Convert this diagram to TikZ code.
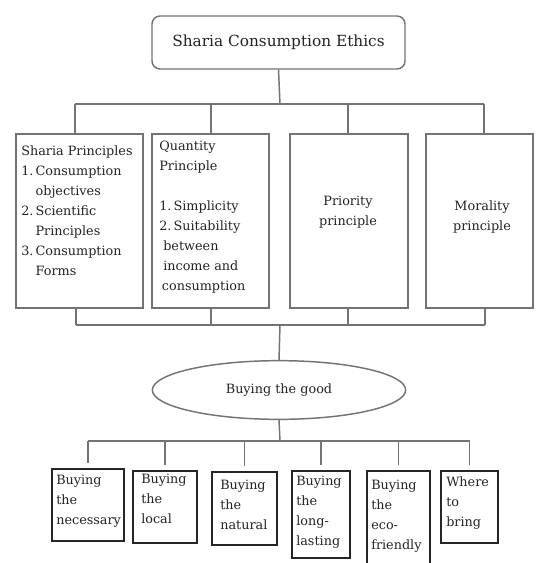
\documentclass[tikz,border=0pt]{standalone}
\usepackage{fontspec}
\setmainfont{DejaVu Serif}
\usetikzlibrary{shapes.geometric,fit}
\definecolor{linegray}{RGB}{115,115,115}
\definecolor{txt}{RGB}{35,35,35}
\begin{document}
\begin{tikzpicture}[x=0.75pt,y=-0.75pt,
  conn/.style={draw=linegray,line width=1.1pt},
  topbox/.style={draw=linegray,line width=1.1pt,rectangle,inner sep=0pt},
  lowbox/.style={draw=black!85,line width=1.5pt,rectangle,inner sep=0pt},
  txtA/.style={text=txt,font=\fontsize{9.6}{15}\selectfont,inner sep=0pt,align=left,anchor=north west},
  txtC/.style={text=txt,font=\fontsize{9.6}{15}\selectfont,inner sep=0pt,align=center},
  txtB/.style={text=txt,font=\fontsize{9.6}{15}\selectfont,inner sep=0pt,align=left,anchor=north west},
]
\useasboundingbox (0,0) rectangle (535,563);
\clip (0,0) rectangle (535,563);

% title
\node[topbox,rounded corners=6pt,fit={(152,16) (405,69)}] (t) {};
\node[text=txt,font=\fontsize{11.5}{14}\selectfont,inner sep=0pt] (tt) at (t.center) {Sharia Consumption Ethics};

% first row boxes
\node[topbox,fit={(16,134) (143,308)}] (b1) {};
\node[topbox,fit={(152,134) (269,308)}] (b2) {};
\node[topbox,fit={(290,134) (408,308)}] (b3) {};
\node[topbox,fit={(426,134) (533,308)}] (b4) {};

\node[txtA] (b1t) at (21,146) {Sharia Principles\\
1.\,Consumption\\ \phantom{1.\,}objectives\\
2.\,Scientific\\ \phantom{2.\,}Principles\\
3.\,Consumption\\ \phantom{3.\,}Forms};
\node[txtA] (b2t) at (159,141) {Quantity\\ Principle\\[15pt]
1.\,Simplicity\\ 2.\,Suitability\\ \hspace*{3pt}between\\ \hspace*{3pt}income and\\ \hspace*{2pt}consumption};
\node[txtC] (b3t) at (348,212) {Priority\\ principle};
\node[txtC] (b4t) at (482,217) {Morality\\ principle};

% upper connectors
\coordinate (h1) at (280,104);
\coordinate (d1) at (75,104);
\coordinate (d2) at (211,104);
\coordinate (d3) at (348,104);
\coordinate (d4) at (484,104);
\draw[conn] (t.south) -- (h1);
\draw[conn] (d1) -- (d4);
\draw[conn] (d1) -- (d1 |- b1.north);
\draw[conn] (d2) -- (d2 |- b2.north);
\draw[conn] (d3) -- (d3 |- b3.north);
\draw[conn] (d4) -- (d4 |- b4.north);

\coordinate (h2) at (280,325);
\coordinate (e1) at (76,325);
\coordinate (e2) at (211,325);
\coordinate (e3) at (348,325);
\coordinate (e4) at (485,325);
\draw[conn] (e1) -- (e4);
\draw[conn] (e1) -- (e1 |- b1.south);
\draw[conn] (e2) -- (e2 |- b2.south);
\draw[conn] (e3) -- (e3 |- b3.south);
\draw[conn] (e4) -- (e4 |- b4.south);

% ellipse
\node[ellipse,draw=linegray,line width=1.1pt,minimum width=190pt,minimum height=44pt,inner sep=0pt,text=txt,font=\fontsize{9.6}{15}\selectfont] (g) at (279,390) {Buying the good};
\draw[conn] (h2) -- (g.north);
\coordinate (h3) at (280,441);
\draw[conn] (g.south) -- (h3);

% lower boxes
\node[lowbox,fit={(52,469) (124,541)}] (c1) {};
\node[lowbox,fit={(133,471) (197,543)}] (c2) {};
\node[lowbox,fit={(212,472) (277,545)}] (c3) {};
\node[lowbox,fit={(292,471) (350,558)}] (c4) {};
\node[lowbox,fit={(367,471) (430,575)}] (c5) {};
\node[lowbox,fit={(441,471) (498,543)}] (c6) {};

\node[txtB] (c1t) at (56,475) {Buying\\ the\\ necessary};
\node[txtB] (c2t) at (141,474) {Buying\\ the\\ local};
\node[txtB] (c3t) at (220,480) {Buying\\ the\\ natural};
\node[txtB] (c4t) at (296,476) {Buying\\ the\\ long-\\ lasting};
\node[txtB] (c5t) at (371,480) {Buying\\ the\\ eco-\\ friendly};
\node[txtB] (c6t) at (446,477) {Where\\ to\\ bring};

\draw[conn] (c1.north |- h3) -- (c6.north |- h3);
\foreach \n in {c1,c2,c3,c4,c5,c6}{
  \draw[conn] (\n.north |- h3) -- ([yshift=3.5pt]\n.north);
}
\end{tikzpicture}
\end{document}
